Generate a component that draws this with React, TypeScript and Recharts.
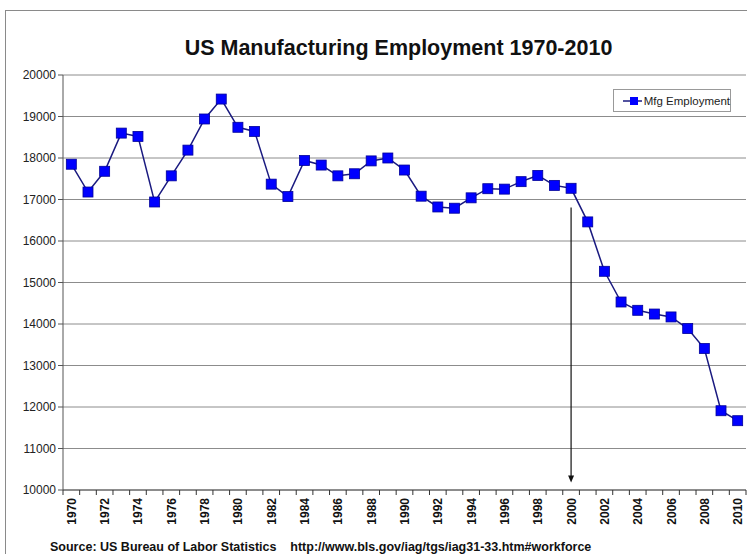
import React from "react";
import {
  LineChart,
  Line,
  XAxis,
  YAxis,
  CartesianGrid,
  ReferenceLine,
} from "recharts";

const years: number[] = [
  1970, 1971, 1972, 1973, 1974, 1975, 1976, 1977, 1978, 1979,
  1980, 1981, 1982, 1983, 1984, 1985, 1986, 1987, 1988, 1989,
  1990, 1991, 1992, 1993, 1994, 1995, 1996, 1997, 1998, 1999,
  2000, 2001, 2002, 2003, 2004, 2005, 2006, 2007, 2008, 2009, 2010,
];

const mfgEmployment: number[] = [
  17850, 17180, 17680, 18600, 18520, 16940, 17570, 18190, 18940, 19420,
  18740, 18640, 17370, 17070, 17940, 17830, 17570, 17620, 17930, 18000,
  17710, 17080, 16820, 16790, 17040, 17260, 17250, 17430, 17580, 17340,
  17270, 16460, 15270, 14530, 14330, 14240, 14170, 13890, 13410, 11910, 11670,
];

const yTicks: number[] = [10000, 11000, 12000, 13000, 14000, 15000, 16000, 17000, 18000, 19000, 20000];
const xLabelYears: number[] = years.filter((y) => y % 2 === 0);
const xTickMarks: number[] = [...years.map((y) => y - 0.5), 2010.5];

const arrowYear = 2000;
const arrowTop = 16810;
const arrowBottom = 10180;

const titleText = "US Manufacturing Employment 1970-2010";
const seriesName = "Mfg Employment";
const sourceText = "Source: US Bureau of Labor Statistics    http://www.bls.gov/iag/tgs/iag31-33.htm#workforce";

const data = years.map((year, i) => ({ year, value: mfgEmployment[i] }));
const allXTicks = [...xTickMarks, ...xLabelYears].sort((a, b) => a - b);

const FONT = "'Liberation Sans', Arial, sans-serif";

const SquareDot = (props: any) => {
  const { cx, cy, index } = props;
  if (cx == null || cy == null) return <g key={`d${index}`} />;
  return (
    <rect
      key={`d${index}`}
      x={cx - 5}
      y={cy - 5}
      width={10}
      height={10}
      fill="#0000ff"
      stroke="#000099"
      strokeWidth={0.8}
    />
  );
};

const XTick = (props: any) => {
  const { x, y, payload } = props;
  const v = payload.value as number;
  if (!Number.isInteger(v)) {
    return <line x1={x} x2={x} y1={y - 8} y2={y - 3} stroke="#333" strokeWidth={1} />;
  }
  return (
    <text
      transform={`translate(${x + 4.5},${y}) rotate(-90)`}
      textAnchor="end"
      fontSize={12}
      fontWeight="bold"
      fontFamily={FONT}
      fill="#111"
    >
      {v}
    </text>
  );
};

const ArrowShape = (props: any) => {
  const { x1, y1, x2, y2 } = props;
  if (x1 == null) return <g />;
  return (
    <g>
      <line x1={x1} y1={y1} x2={x2} y2={y2 - 6} stroke="#111" strokeWidth={1.2} />
      <polygon points={`${x2 - 3},${y2 - 7} ${x2 + 3},${y2 - 7} ${x2},${y2}`} fill="#111" />
    </g>
  );
};

const LegendBox = () => (
  <div
    style={{
      position: "absolute",
      left: 613,
      top: 89,
      width: 118,
      height: 23,
      border: "1px solid #999",
      background: "#fff",
      display: "flex",
      alignItems: "center",
      fontFamily: FONT,
      fontSize: 11.5,
      color: "#222",
      boxSizing: "border-box",
      whiteSpace: "nowrap",
    }}
  >
    <svg width={24} height={12} style={{ marginLeft: 8 }}>
      <line x1={1} y1={6} x2={23} y2={6} stroke="#1a1a80" strokeWidth={1.5} />
      <rect x={8} y={2} width={8} height={8} fill="#0000ff" />
    </svg>
    <span style={{ marginLeft: 2 }}>{seriesName}</span>
  </div>
);

export default function App() {
  return (
    <div style={{ position: "absolute", left: 0, top: 0, width: 747, height: 554, background: "#fff", overflow: "hidden" }}>
      <div
        style={{
          position: "absolute",
          left: 5,
          top: 10,
          width: 760,
          height: 560,
          border: "1px solid #8a8a8a",
          boxSizing: "border-box",
        }}
      />
      <div
        style={{
          position: "absolute",
          left: 0,
          width: 797,
          top: 36,
          textAlign: "center",
          fontFamily: FONT,
          fontWeight: "bold",
          fontSize: 21.5,
          color: "#111",
          whiteSpace: "nowrap",
        }}
      >
        {titleText}
      </div>
      <div style={{ position: "absolute", left: 0, top: 0 }}>
        <LineChart
          width={747}
          height={554}
          data={data}
          margin={{ top: 75, right: 1, bottom: 24, left: 0 }}
        >
          <CartesianGrid vertical={false} stroke="#8c8c8c" strokeWidth={1} />
          <XAxis
            dataKey="year"
            type="number"
            domain={[1969.5, 2010.5]}
            ticks={allXTicks}
            interval={0}
            tick={<XTick />}
            tickLine={false}
            axisLine={{ stroke: "#555" }}
            height={40}
            allowDecimals
          />
          <YAxis
            domain={[10000, 20000]}
            ticks={yTicks}
            interval={0}
            width={63}
            tickSize={5}
            tickLine={{ stroke: "#555" }}
            axisLine={{ stroke: "#555" }}
            tick={{ fontSize: 12, fill: "#222", fontFamily: FONT }}
            tickMargin={2}
          />
          <ReferenceLine
            segment={[
              { x: arrowYear, y: arrowTop },
              { x: arrowYear, y: arrowBottom },
            ]}
            shape={<ArrowShape />}
            ifOverflow="extendDomain"
          />
          <Line
            type="linear"
            dataKey="value"
            name={seriesName}
            stroke="#1a1a80"
            strokeWidth={1.5}
            dot={<SquareDot />}
            activeDot={false}
            isAnimationActive={false}
          />
        </LineChart>
      </div>
      <LegendBox />
      <div
        style={{
          position: "absolute",
          left: 50,
          top: 540,
          fontFamily: FONT,
          fontWeight: "bold",
          fontSize: 12.5,
          color: "#111",
          whiteSpace: "pre",
        }}
      >
        {sourceText}
      </div>
    </div>
  );
}
